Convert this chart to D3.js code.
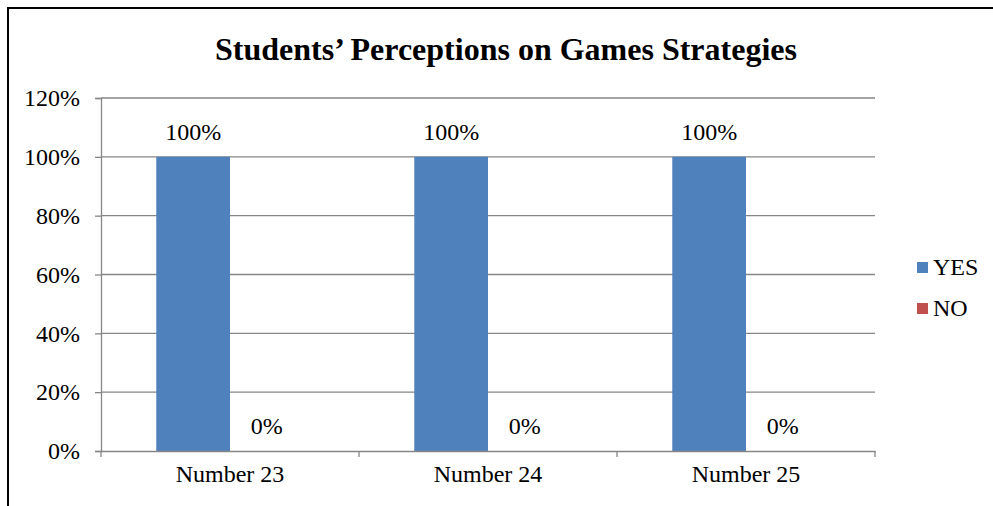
<!DOCTYPE html>
<html>
<head>
<meta charset="utf-8">
<script src="https://cdn.jsdelivr.net/npm/d3@7"></script>
<style>
  html, body { margin: 0; padding: 0; background: #fff; overflow: hidden; }
  svg { display: block; }
  text { font-family: "Liberation Serif", "Times New Roman", serif; fill: #000; }
</style>
</head>
<body>
<svg id="chart" width="993" height="506"></svg>
<script>
// Survey items, series names and values (fractions of respondents)
const categories = ["Number 23", "Number 24", "Number 25"];
const seriesNames = ["YES", "NO"];
const yesValues = [1.0, 1.0, 1.0];
const noValues = [0.0, 0.0, 0.0];
const yTicks = [0, 0.2, 0.4, 0.6, 0.8, 1.0, 1.2];
const seriesColors = ["#4F81BD", "#C0504D"];
const titleText = "Students\u2019 Perceptions on Games Strategies";

const svg = d3.select("#chart");
const W = 993, H = 506;
const plot = { left: 101, right: 875, top: 98, bottom: 451 };
const serif = "'Liberation Serif', 'Times New Roman', serif";

// Outer chart frame (continues past the right and bottom edges)
svg.append("rect")
  .attr("x", 8).attr("y", 8)
  .attr("width", W + 20).attr("height", H + 20)
  .attr("fill", "#fff").attr("stroke", "#000").attr("stroke-width", 2);

// Title
svg.append("text")
  .attr("x", 506).attr("y", 60)
  .attr("text-anchor", "middle")
  .style("font-family", serif)
  .style("font-size", "32px").style("font-weight", "bold")
  .text(titleText);

const x0 = d3.scaleBand().domain(categories).range([plot.left, plot.right]).padding(0);
// 150% gap width: two bars plus 1.5 bar-widths of gap per category
const barW = x0.bandwidth() / 3.5;
const y = d3.scaleLinear().domain([0, 1.2]).range([plot.bottom, plot.top]);
const fmt = d3.format(".0%");

// Horizontal gridlines
svg.append("g").selectAll("line").data(yTicks.filter(d => d > 0)).join("line")
  .attr("x1", plot.left).attr("x2", plot.right)
  .attr("y1", d => y(d)).attr("y2", d => y(d))
  .attr("stroke", "#868686").attr("stroke-width", 1.3);

// Y axis
const yAxis = svg.append("g")
  .attr("transform", `translate(${plot.left},0)`)
  .call(d3.axisLeft(y).tickValues(yTicks).tickFormat(fmt).tickSize(6).tickPadding(15));
yAxis.attr("font-family", null);
yAxis.select(".domain").attr("stroke", "#868686").attr("stroke-width", 1.3);
yAxis.selectAll(".tick line").attr("stroke", "#868686").attr("stroke-width", 1.3);
yAxis.selectAll(".tick text")
  .style("font-size", "24px").style("font-family", serif).attr("fill", "#000");

// Bars
const rows = categories.map((c, i) => ({ cat: c, values: [yesValues[i], noValues[i]] }));
const groups = svg.append("g").selectAll("g").data(rows).join("g")
  .attr("transform", d => `translate(${x0(d.cat)},0)`);

groups.selectAll("rect").data(d => d.values.map((v, k) => ({ v, k }))).join("rect")
  .attr("x", d => barW * 0.75 + d.k * barW)
  .attr("width", barW)
  .attr("y", d => y(d.v))
  .attr("height", d => y(0) - y(d.v))
  .attr("fill", d => seriesColors[d.k]);

// Value labels above bars
groups.selectAll("text.val").data(d => d.values.map((v, k) => ({ v, k }))).join("text")
  .attr("class", "val")
  .attr("x", d => barW * 0.75 + d.k * barW + barW / 2)
  .attr("y", d => y(d.v) - 17)
  .attr("text-anchor", "middle")
  .style("font-family", serif)
  .style("font-size", "24px")
  .text(d => fmt(d.v));

// X axis
const xAxis = svg.append("g")
  .attr("transform", `translate(0,${plot.bottom})`)
  .call(d3.axisBottom(x0).tickSize(0).tickPadding(14));
xAxis.attr("font-family", null);
xAxis.select(".domain").attr("stroke", "#868686").attr("stroke-width", 1.3);
xAxis.selectAll(".tick text")
  .style("font-size", "24px").style("font-family", serif).attr("fill", "#000")
  .attr("dy", "0.71em");
// Category boundary tick marks
svg.append("g").selectAll("line")
  .data(categories.map(c => x0(c)).concat([plot.right])).join("line")
  .attr("x1", d => d).attr("x2", d => d)
  .attr("y1", plot.bottom).attr("y2", plot.bottom + 6)
  .attr("stroke", "#868686").attr("stroke-width", 1.3);

// Legend
const legend = svg.append("g").selectAll("g").data(seriesNames).join("g")
  .attr("transform", (d, i) => `translate(917,${262 + i * 41})`);
legend.append("rect").attr("width", 11).attr("height", 11)
  .attr("fill", (d, i) => seriesColors[i]);
legend.append("text").attr("x", 16).attr("y", 13)
  .style("font-family", serif)
  .style("font-size", "24px").text(d => d);
</script>
</body>
</html>
